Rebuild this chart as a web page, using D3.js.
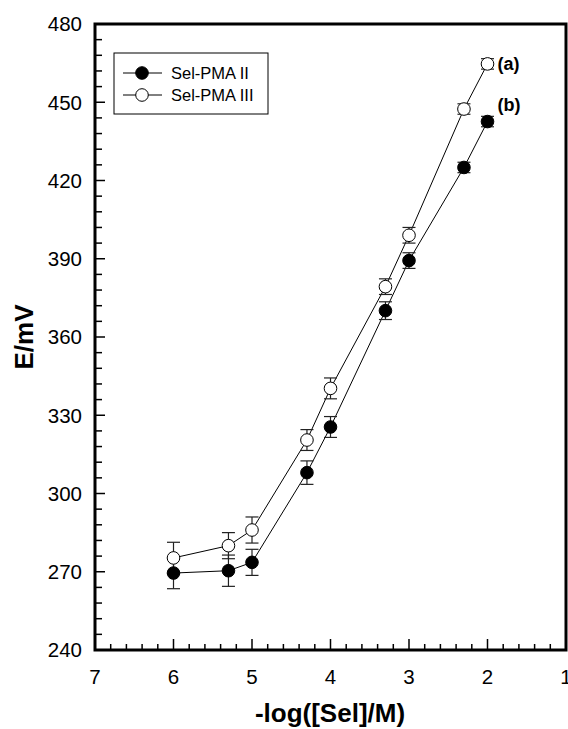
<!DOCTYPE html>
<html>
<head>
<meta charset="utf-8">
<script src="https://cdn.jsdelivr.net/npm/d3@7"></script>
<style>
  html, body { margin: 0; padding: 0; background: #fff; }
  svg { display: block; }
  text { font-family: "Liberation Sans", Arial, sans-serif; fill: #000; }
</style>
</head>
<body>
<svg id="chart" width="568" height="729"></svg>
<script>
// ---- data ----
const xValues   = [6, 5.3, 5, 4.3, 4, 3.3, 3, 2.3, 2];
const seriesII  = [269.5, 270.4, 273.6, 308, 325.5, 370.1, 389.3, 425, 442.6];
const errII     = [6, 6, 5, 4.5, 4, 3.4, 3, 2, 2];
const seriesIII = [275.3, 280, 286, 320.5, 340.3, 379.3, 399, 447.4, 464.7];
const errIII    = [6, 5, 5, 4, 4, 3, 3, 2, 2];
const seriesNames = ["Sel-PMA II", "Sel-PMA III"];
const xTicks = [7, 6, 5, 4, 3, 2, 1];
const yTicks = [240, 270, 300, 330, 360, 390, 420, 450, 480];
const curveLabels = ["(a)", "(b)"];

// ---- layout ----
const svg = d3.select("#chart");
const L = 95, R = 566, T = 24, B = 650;

const x = d3.scaleLinear().domain([7, 1]).range([L, R]);
const y = d3.scaleLinear().domain([240, 480]).range([B, T]);

// minor ticks
const xMinor = d3.range(7, 0.99, -0.2).map(v => +v.toFixed(1)).filter(v => !xTicks.includes(v));
const yMinor = d3.range(240, 481, 6).filter(v => !yTicks.includes(v));

// x axis (ticks inward)
const gx = svg.append("g");
gx.selectAll("line.maj").data(xTicks).join("line")
  .attr("x1", d => x(d)).attr("x2", d => x(d))
  .attr("y1", B).attr("y2", B - 11)
  .attr("stroke", "#000").attr("stroke-width", 1.5);
gx.selectAll("line.min").data(xMinor).join("line")
  .attr("class", "min")
  .attr("x1", d => x(d)).attr("x2", d => x(d))
  .attr("y1", B).attr("y2", B - 6)
  .attr("stroke", "#000").attr("stroke-width", 1.5);
gx.selectAll("text").data(xTicks).join("text")
  .attr("x", d => x(d)).attr("y", 684)
  .attr("text-anchor", "middle")
  .attr("font-size", 20.5)
  .text(d => d);

// y axis
const gy = svg.append("g");
gy.selectAll("line.maj").data(yTicks).join("line")
  .attr("x1", L).attr("x2", L + 10)
  .attr("y1", d => y(d)).attr("y2", d => y(d))
  .attr("stroke", "#000").attr("stroke-width", 1.5);
gy.selectAll("line.min").data(yMinor).join("line")
  .attr("class", "min")
  .attr("x1", L).attr("x2", L + 7)
  .attr("y1", d => y(d)).attr("y2", d => y(d))
  .attr("stroke", "#000").attr("stroke-width", 1.5);
gy.selectAll("text").data(yTicks).join("text")
  .attr("x", 82).attr("y", d => y(d))
  .attr("dy", "0.36em")
  .attr("text-anchor", "end")
  .attr("font-size", 20.5)
  .text(d => d);

// frame
svg.append("rect")
  .attr("x", L).attr("y", T).attr("width", R - L).attr("height", B - T)
  .attr("fill", "none").attr("stroke", "#000").attr("stroke-width", 3);

// axis titles
svg.append("text")
  .attr("x", 330).attr("y", 722)
  .attr("text-anchor", "middle")
  .attr("font-size", 26).attr("font-weight", "bold")
  .text("-log([Sel]/M)");
svg.append("text")
  .attr("transform", `translate(33,${(T + B) / 2}) rotate(-90)`)
  .attr("text-anchor", "middle")
  .attr("font-size", 26).attr("font-weight", "bold")
  .text("E/mV");

// series
const series = [
  { name: seriesNames[0], vals: seriesII, err: errII, fill: "#000" },
  { name: seriesNames[1], vals: seriesIII, err: errIII, fill: "#fff" }
];
const line = d3.line().x(d => x(d[0])).y(d => y(d[1]));
const capW = 6.5, rad = 6.3;

series.forEach(s => {
  const pts = xValues.map((xv, i) => [xv, s.vals[i], s.err[i]]);
  svg.append("path").datum(pts).attr("d", line)
    .attr("fill", "none").attr("stroke", "#000").attr("stroke-width", 1);
});
series.forEach(s => {
  const pts = xValues.map((xv, i) => [xv, s.vals[i], s.err[i]]);
  const g = svg.append("g").attr("stroke", "#222").attr("stroke-width", 1.2);
  pts.forEach(p => {
    const cx = x(p[0]), y1 = y(p[1] + p[2]), y2 = y(p[1] - p[2]);
    g.append("line").attr("x1", cx).attr("x2", cx).attr("y1", y1).attr("y2", y2);
    g.append("line").attr("x1", cx - capW).attr("x2", cx + capW).attr("y1", y1).attr("y2", y1);
    g.append("line").attr("x1", cx - capW).attr("x2", cx + capW).attr("y1", y2).attr("y2", y2);
  });
});
series.forEach(s => {
  const pts = xValues.map((xv, i) => [xv, s.vals[i]]);
  svg.append("g").selectAll("circle").data(pts).join("circle")
    .attr("cx", d => x(d[0])).attr("cy", d => y(d[1])).attr("r", rad)
    .attr("fill", s.fill).attr("stroke", "#000").attr("stroke-width", 1);
});

// curve labels
const lastIdx = xValues.length - 1;
svg.append("text").attr("x", x(xValues[lastIdx]) + 10).attr("y", y(seriesIII[lastIdx]) + 6)
  .attr("font-size", 18).attr("font-weight", "bold").text(curveLabels[0]);
svg.append("text").attr("x", x(xValues[lastIdx]) + 10).attr("y", y(seriesII[lastIdx]) - 11)
  .attr("font-size", 18).attr("font-weight", "bold").text(curveLabels[1]);

// legend
const lg = svg.append("g");
lg.append("rect").attr("x", 114).attr("y", 53).attr("width", 154).attr("height", 61)
  .attr("fill", "#fff").attr("stroke", "#000").attr("stroke-width", 1);
series.forEach((s, i) => {
  const yy = 73 + i * 22;
  lg.append("line").attr("x1", 123).attr("x2", 162).attr("y1", yy).attr("y2", yy)
    .attr("stroke", "#000").attr("stroke-width", 1);
  lg.append("circle").attr("cx", 142).attr("cy", yy).attr("r", rad)
    .attr("fill", s.fill).attr("stroke", "#000").attr("stroke-width", 1);
  lg.append("text").attr("x", 171).attr("y", yy).attr("dy", "0.36em")
    .attr("font-size", 16.5).text(s.name);
});
</script>
</body>
</html>
